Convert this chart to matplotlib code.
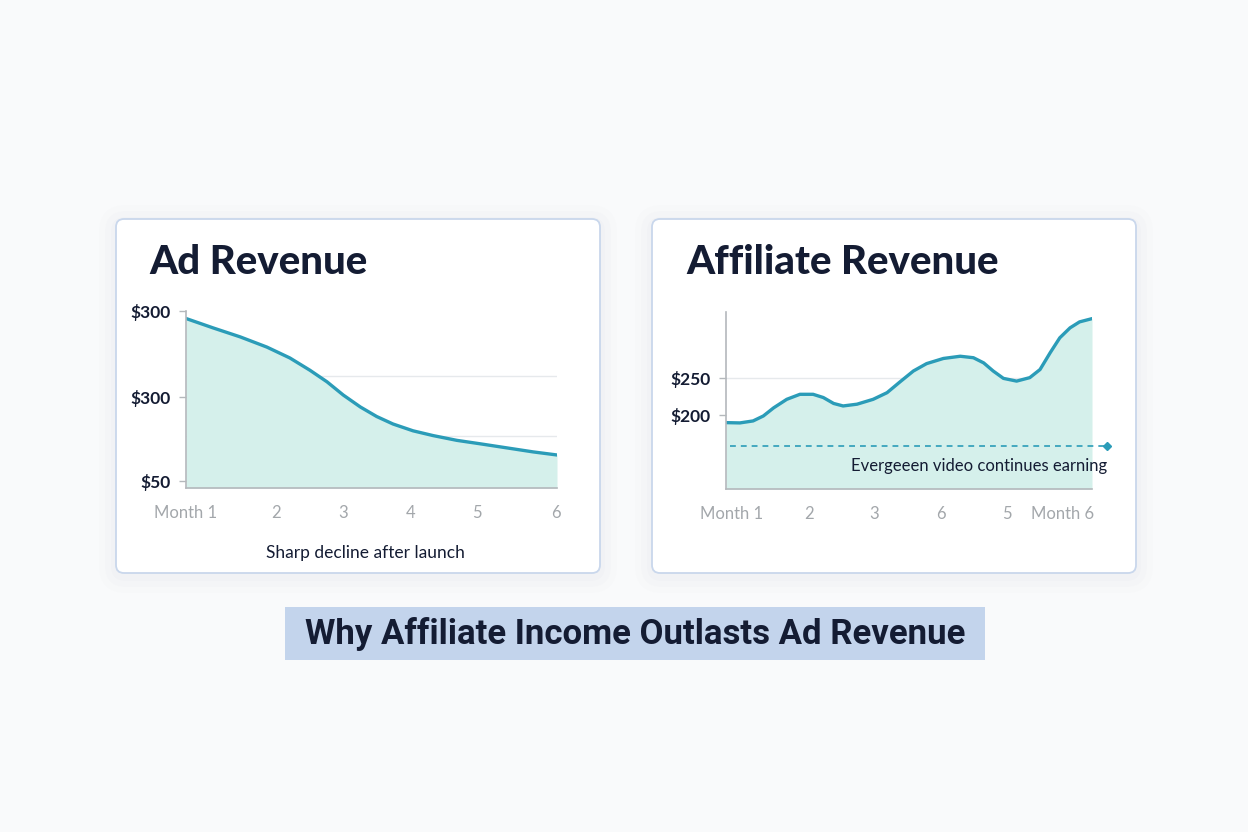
import matplotlib
matplotlib.use("Agg")
import matplotlib.pyplot as plt
from matplotlib.patches import FancyBboxPatch, Rectangle

# --------------------------------------------------------------
# data
# ad revenue curve (x in months, y in dollars)
ad_x = [1.00, 1.37, 1.73, 2.09, 2.40, 2.67, 2.90, 3.12, 3.35, 3.57, 3.79, 4.06,
        4.33, 4.65, 4.96, 5.32, 5.68, 6.00]
ad_y = [289, 275, 262, 247, 231, 213, 196, 176.5, 159, 145, 134, 124,
        117, 110, 105, 99, 93, 88.5]
ad_ticks = [1.0, 2.21, 3.12, 4.02, 4.92, 5.99]
ad_tick_labels = ["Month 1", "2", "3", "4", "5", "6"]
ad_yticks = [300, 174, 50]
ad_ytick_labels = ["$300", "$300", "$50"]
ad_grid = [204, 116]

# affiliate revenue curve
aff_x = [1.00, 1.19, 1.37, 1.51, 1.65, 1.83, 2.01, 2.19, 2.33, 2.47, 2.60, 2.79,
         3.01, 3.20, 3.38, 3.56, 3.74, 3.97, 4.20, 4.38, 4.52, 4.65, 4.79, 4.97,
         5.15, 5.29, 5.43, 5.56, 5.70, 5.83, 6.00]
aff_y = [190, 189.6, 192.3, 199, 210, 221.6, 228.4, 228.4, 224, 216, 212.6, 215,
         221.6, 230.6, 245.5, 260, 270, 277, 280, 278, 271, 260, 250, 246.3,
         251, 262, 285, 305, 318.5, 326.6, 331]
aff_ticks = [1.07, 2.13, 3.02, 3.94, 4.84, 5.60]
aff_tick_labels = ["Month 1", "2", "3", "6", "5", "Month 6"]
aff_yticks = [250, 200]
aff_ytick_labels = ["$250", "$200"]
aff_baseline = 158

# styles
bg_color = "#f9fafb"
card_edge = "#c9d7ec"
line_color = "#2b9cb8"
fill_color = "#d5f0eb"
navy = "#141c33"
gray = "#a3a7ab"
spine_gray = "#b4b8bc"
title_font = "Lato"

fig = plt.figure(figsize=(12.48, 8.32), dpi=100, facecolor=bg_color)
inch = fig.dpi_scale_trans


def card(x0, y0, w, h):
    # soft shadow
    for i, a in enumerate([0.025, 0.02, 0.015]):
        p = 0.05 + i * 0.06
        fig.patches.append(FancyBboxPatch((x0 - p, y0 - p - 0.03), w + 2 * p, h + 2 * p,
                                          boxstyle="round,pad=0,rounding_size=%f" % (0.1 + p),
                                          transform=inch, facecolor="#8090a8", alpha=a,
                                          edgecolor="none", zorder=0))
    fig.patches.append(FancyBboxPatch((x0, y0), w, h, boxstyle="round,pad=0,rounding_size=0.08",
                                      transform=inch, facecolor="white", edgecolor=card_edge,
                                      linewidth=1.3, zorder=1))


card(1.16, 2.59, 4.84, 3.54)
card(6.52, 2.59, 4.84, 3.54)


def style_axes(ax):
    ax.set_facecolor("none")
    for s in ["top", "right"]:
        ax.spines[s].set_visible(False)
    for s in ["left", "bottom"]:
        ax.spines[s].set_color(spine_gray)
        ax.spines[s].set_linewidth(1.2)
    ax.tick_params(axis="y", length=5, width=1, color=spine_gray, pad=6,
                   labelsize=12.5, labelcolor=navy)
    ax.tick_params(axis="x", length=0, pad=12, labelsize=12, labelcolor=gray)
    for lab in ax.get_yticklabels():
        lab.set_fontweight("bold")
        lab.set_fontfamily(title_font)
    for lab in ax.get_xticklabels():
        lab.set_fontfamily(title_font)


# left chart: ad revenue
ax1 = fig.add_axes([186 / 1248, 1 - 488 / 832, 371 / 1248, 177 / 832], zorder=2)
for g in ad_grid:
    ax1.axhline(g, color="#e6e9ec", linewidth=1, zorder=0)
ax1.fill_between(ad_x, ad_y, 40, color=fill_color, linewidth=0, zorder=1)
ax1.plot(ad_x, ad_y, color=line_color, linewidth=2.4, solid_capstyle="round",
         solid_joinstyle="round", zorder=2)
ax1.set_xlim(1, 6)
ax1.set_ylim(40, 300)
ax1.set_xticks(ad_ticks)
ax1.set_xticklabels(ad_tick_labels)
ax1.set_yticks(ad_yticks)
ax1.set_yticklabels(ad_ytick_labels)
style_axes(ax1)

# right chart: affiliate revenue
ax2 = fig.add_axes([726 / 1248, 1 - 489 / 832, 366 / 1248, 177 / 832], zorder=2)
ax2.axhline(250, color="#e6e9ec", linewidth=1, zorder=0)
ax2.fill_between(aff_x, aff_y, 100, color=fill_color, linewidth=0, zorder=1)
ax2.plot(aff_x, aff_y, color=line_color, linewidth=2.4, solid_capstyle="round",
         solid_joinstyle="round", zorder=2)
ax2.plot([1.05, 6.2], [aff_baseline, aff_baseline], color=line_color, linewidth=1.2,
         linestyle=(0, (3.5, 3)), clip_on=False, zorder=3)
ax2.plot([6.2], [aff_baseline], marker="D", markersize=4, color=line_color, clip_on=False, zorder=3)
ax2.text(6.2, aff_baseline - 27, "Evergeeen video continues earning", ha="right", va="center",
         fontsize=12, color=navy, fontfamily=title_font, clip_on=False, zorder=3)
ax2.set_xlim(1, 6)
ax2.set_ylim(100, 340)
ax2.set_xticks(aff_ticks)
ax2.set_xticklabels(aff_tick_labels)
ax2.set_yticks(aff_yticks)
ax2.set_yticklabels(aff_ytick_labels)
style_axes(ax2)

# card titles and notes
fig.text(149 / 1248, 1 - 262 / 832, "Ad Revenue", fontsize=29, fontweight=900,
         color=navy, fontfamily=title_font, va="center", ha="left")
fig.text(686 / 1248, 1 - 262 / 832, "Affiliate Revenue", fontsize=29, fontweight=900,
         color=navy, fontfamily=title_font, va="center", ha="left")
fig.text(365 / 1248, 1 - 553 / 832, "Sharp decline after launch", fontsize=12.5,
         color=navy, fontfamily=title_font, va="center", ha="center")

# bottom banner
fig.patches.append(Rectangle((285 / 1248, 1 - 660 / 832), 700 / 1248, 53 / 832,
                             transform=fig.transFigure, facecolor="#c3d4ec",
                             edgecolor="none", zorder=1))
fig.text(635 / 1248, 1 - 634 / 832, "Why Affiliate Income Outlasts Ad Revenue",
         fontsize=25, fontweight="bold", color=navy, fontfamily="Roboto",
         va="center", ha="center", zorder=3)

fig.savefig("out.png", dpi=100, facecolor=bg_color)
